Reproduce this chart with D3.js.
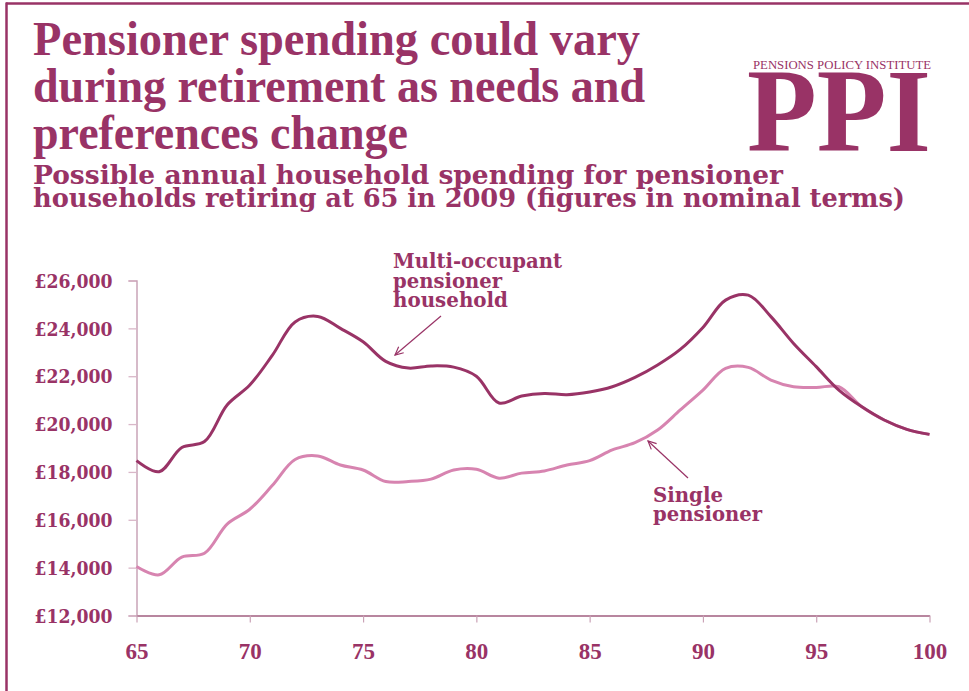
<!DOCTYPE html>
<html>
<head>
<meta charset="utf-8">
<script src="https://cdn.jsdelivr.net/npm/d3@7"></script>
<style>
  html, body { margin: 0; padding: 0; background: #fff; }
  svg { display: block; }
</style>
</head>
<body>
<svg id="chart" width="969" height="691"></svg>
<script>
// ---------- data ----------
const ages = [65,66,67,68,69,70,71,72,73,74,75,76,77,78,79,80,81,82,83,84,85,86,87,88,89,90,91,92,93,94,95,96,97,98,99,100];
const multiOccupant = [18470,18010,19020,19270,20800,21630,22880,24270,24500,24000,23440,22620,22340,22430,22380,22000,20880,21170,21280,21230,21340,21560,21950,22470,23120,24040,25180,25390,24490,23370,22400,21420,20730,20170,19780,19570];
const singlePensioner = [14050,13700,14440,14600,15820,16440,17440,18520,18670,18290,18080,17600,17600,17700,18080,18110,17740,17950,18040,18290,18470,18920,19220,19750,20590,21420,22330,22370,21840,21560,21530,21560,20730,20170,19780,19570];
const yTicks = [12000,14000,16000,18000,20000,22000,24000,26000];
const xTicks = [65,70,75,80,85,90,95,100];
const titleLines = ["Pensioner spending could vary","during retirement as needs and","preferences change"];
const subtitleLines = ["Possible annual household spending for pensioner","households retiring at 65 in 2009 (figures in nominal terms)"];
const multiLabel = ["Multi-occupant","pensioner","household"];
const singleLabel = ["Single","pensioner"];

// ---------- styling ----------
const PURPLE = "#993366";
const PINK = "#d784b0";
const AXIS = "#c196ad";

const svg = d3.select("#chart");

function fit(sel, w) {
  sel.attr("textLength", w).attr("lengthAdjust", "spacingAndGlyphs");
}

// frame
svg.append("line").attr("x1", 6).attr("x2", 969).attr("y1", 3.5).attr("y2", 3.5)
  .attr("stroke", PURPLE).attr("stroke-width", 2.5);
svg.append("line").attr("x1", 6.5).attr("x2", 6.5).attr("y1", 2.5).attr("y2", 691)
  .attr("stroke", PURPLE).attr("stroke-width", 2.5);

// title
const titleW = [607, 612, 375];
titleLines.forEach((t, i) => {
  svg.append("text").attr("x", 33).attr("y", 55 + i * 47)
    .attr("font-family", "Liberation Serif, serif").attr("font-weight", "bold")
    .attr("font-size", 48).attr("fill", PURPLE).text(t)
    .call(fit, titleW[i]);
});
const subW = [750, 872];
subtitleLines.forEach((t, i) => {
  svg.append("text").attr("x", 33).attr("y", 184 + i * 23)
    .attr("font-family", "DejaVu Serif, serif").attr("font-weight", "bold")
    .attr("font-size", 26).attr("fill", PURPLE).text(t)
    .call(fit, subW[i]);
});

// logo
svg.append("text").attr("x", 753).attr("y", 69)
  .attr("font-family", "Liberation Serif, serif").attr("font-size", 11.5)
  .attr("fill", PURPLE).text("PENSIONS POLICY INSTITUTE").call(fit, 178);
svg.append("text").attr("x", 747).attr("y", 151)
  .attr("font-family", "Liberation Serif, serif").attr("font-weight", "bold")
  .attr("font-size", 118).attr("fill", PURPLE).text("PPI").call(fit, 184);

// ---------- scales ----------
const x = d3.scaleLinear().domain([65, 100]).range([136.5, 929.5]);
const y = d3.scaleLinear().domain([12000, 26000]).range([615.5, 280.5]);

// y axis
const yAxis = svg.append("g").attr("transform", "translate(136.5,0)")
  .call(d3.axisLeft(y).tickValues(yTicks).tickSize(8).tickFormat(d => "£" + d3.format(",")(d)).tickPadding(16));
yAxis.select(".domain").attr("stroke", AXIS).attr("stroke-width", 1.3);
yAxis.selectAll(".tick line").attr("stroke", "#d9b7c8").attr("stroke-width", 1.3);
yAxis.selectAll(".tick text")
  .attr("font-family", "DejaVu Serif, serif").attr("font-weight", "bold")
  .attr("font-size", 19).attr("fill", PURPLE).attr("dy", "0.35em")
  .call(fit, 78);

// x axis
const xAxis = svg.append("g").attr("transform", "translate(0,615.5)")
  .call(d3.axisBottom(x).tickValues(xTicks).tickSize(7).tickSizeOuter(0).tickPadding(20));
xAxis.select(".domain").attr("stroke", "#b8869f").attr("stroke-width", 2.2);
xAxis.selectAll(".tick line").attr("stroke", "#caa2b6").attr("stroke-width", 1.2);
xAxis.selectAll(".tick text")
  .attr("font-family", "Liberation Serif, serif").attr("font-weight", "bold")
  .attr("font-size", 23).attr("fill", PURPLE).attr("dy", "0.71em");

// ---------- lines ----------
const lineGen = (vals) => d3.line()
  .x((d, i) => x(ages[i])).y(d => y(d))
  .curve(d3.curveCatmullRom.alpha(0.5))(vals);

svg.append("path").attr("d", lineGen(singlePensioner))
  .attr("fill", "none").attr("stroke", PINK).attr("stroke-width", 3).attr("stroke-linejoin", "round");
svg.append("path").attr("d", lineGen(multiOccupant))
  .attr("fill", "none").attr("stroke", PURPLE).attr("stroke-width", 3).attr("stroke-linejoin", "round");

// ---------- annotations ----------
const multiW = [169, 109, 115];
multiLabel.forEach((t, i) => {
  svg.append("text").attr("x", 393).attr("y", 268 + i * 19.5)
    .attr("font-family", "DejaVu Serif, serif").attr("font-weight", "bold")
    .attr("font-size", 20).attr("fill", PURPLE).text(t).call(fit, multiW[i]);
});
const singleW = [70, 109];
singleLabel.forEach((t, i) => {
  svg.append("text").attr("x", 653).attr("y", 502 + i * 19)
    .attr("font-family", "DejaVu Serif, serif").attr("font-weight", "bold")
    .attr("font-size", 20).attr("fill", PURPLE).text(t).call(fit, singleW[i]);
});

function arrow(x1, y1, x2, y2) {
  svg.append("line").attr("x1", x1).attr("y1", y1).attr("x2", x2).attr("y2", y2)
    .attr("stroke", PURPLE).attr("stroke-width", 1.2);
  const a = Math.atan2(y2 - y1, x2 - x1);
  const L = 9, spread = 0.45;
  const p1 = [x2 - L * Math.cos(a - spread), y2 - L * Math.sin(a - spread)];
  const p2 = [x2 - L * Math.cos(a + spread), y2 - L * Math.sin(a + spread)];
  svg.append("path").attr("d", `M${p1[0]},${p1[1]}L${x2},${y2}L${p2[0]},${p2[1]}`)
    .attr("fill", "none").attr("stroke", PURPLE).attr("stroke-width", 1.2);
}
arrow(441, 316, 395, 355);
arrow(688, 478, 648, 441);
</script>
</body>
</html>
